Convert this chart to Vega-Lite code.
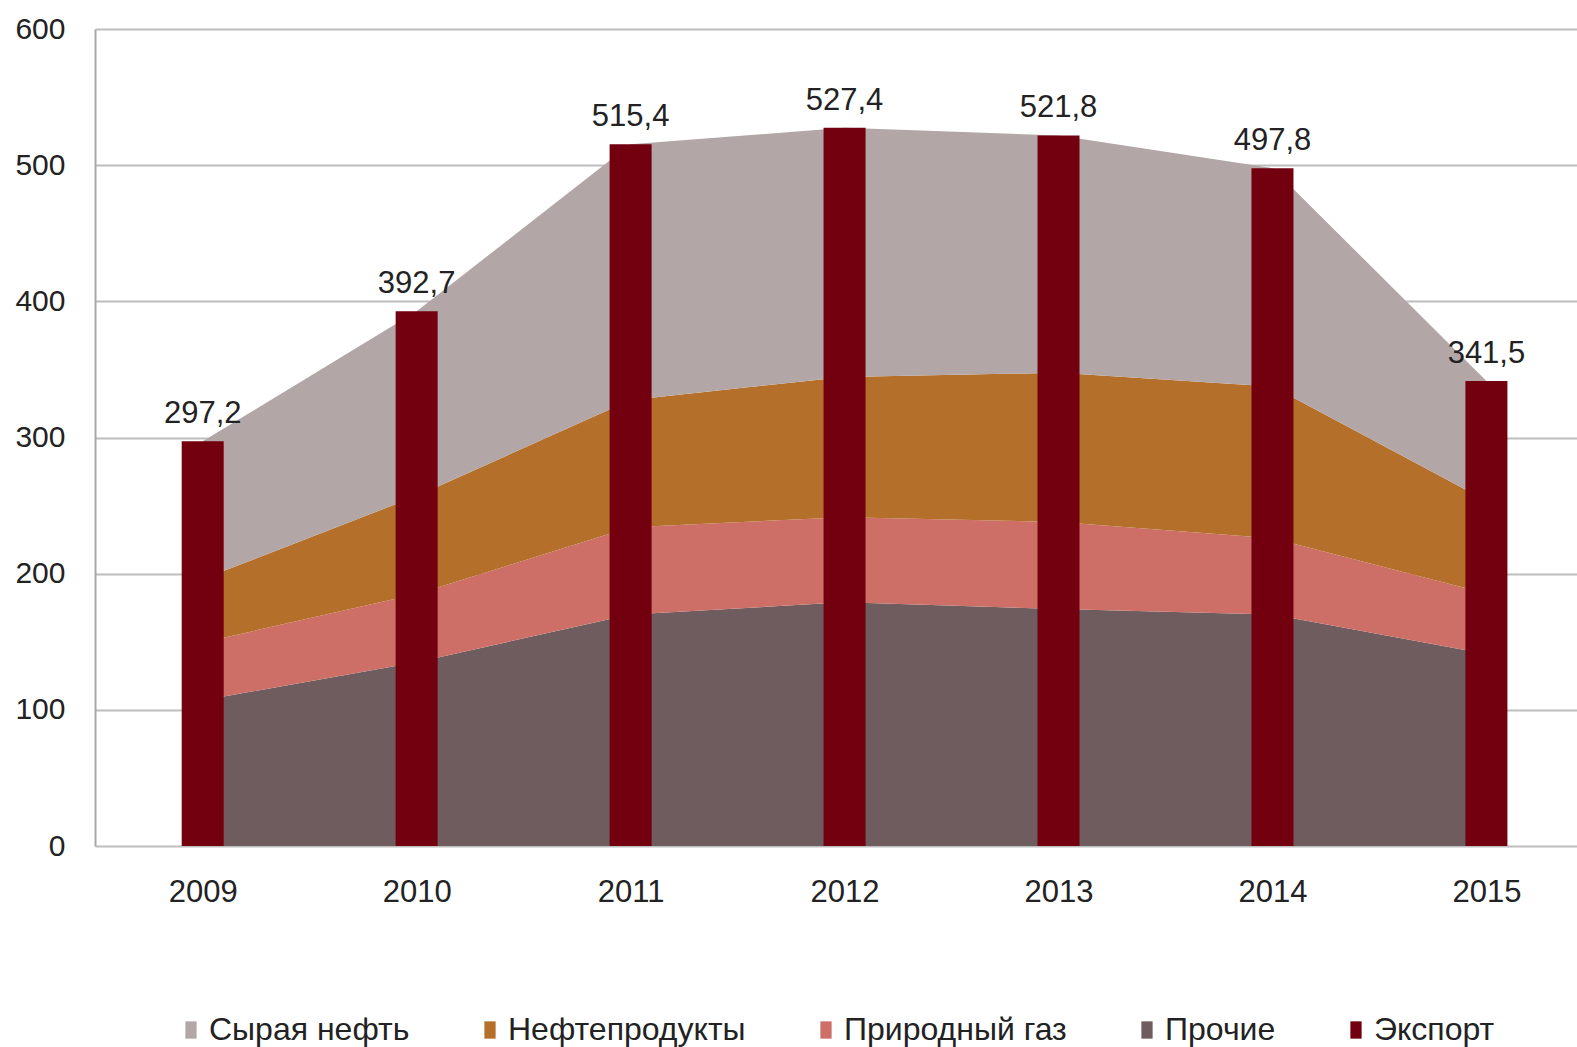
{
  "$schema": "https://vega.github.io/schema/vega-lite/v6.json",
  "width": 1482,
  "height": 817,
  "autosize": {"type": "none"},
  "padding": {"left": 95, "top": 29, "right": 0, "bottom": 201},
  "background": "#ffffff",
  "config": {
    "locale": {"number": {"decimal": ",", "thousands": " ", "grouping": [3], "currency": ["", ""]}},
    "font": "Liberation Sans",
    "view": {"stroke": null},
    "axis": {"labelFont": "Liberation Sans", "labelFontSize": 30, "labelColor": "#222222"}
  },
  "datasets": {
    "parts": [
      {"year": 2009, "series": "Прочие", "k": 1, "value": 107},
      {"year": 2009, "series": "Природный газ", "k": 2, "value": 42.5},
      {"year": 2009, "series": "Нефтепродукты", "k": 3, "value": 46.5},
      {"year": 2009, "series": "Сырая нефть", "k": 4, "value": 101.2},
      {"year": 2010, "series": "Прочие", "k": 1, "value": 135},
      {"year": 2010, "series": "Природный газ", "k": 2, "value": 50},
      {"year": 2010, "series": "Нефтепродукты", "k": 3, "value": 72},
      {"year": 2010, "series": "Сырая нефть", "k": 4, "value": 135.7},
      {"year": 2011, "series": "Прочие", "k": 1, "value": 170},
      {"year": 2011, "series": "Природный газ", "k": 2, "value": 64},
      {"year": 2011, "series": "Нефтепродукты", "k": 3, "value": 93.5},
      {"year": 2011, "series": "Сырая нефть", "k": 4, "value": 187.9},
      {"year": 2012, "series": "Прочие", "k": 1, "value": 179},
      {"year": 2012, "series": "Природный газ", "k": 2, "value": 62.5},
      {"year": 2012, "series": "Нефтепродукты", "k": 3, "value": 103},
      {"year": 2012, "series": "Сырая нефть", "k": 4, "value": 182.9},
      {"year": 2013, "series": "Прочие", "k": 1, "value": 174},
      {"year": 2013, "series": "Природный газ", "k": 2, "value": 64},
      {"year": 2013, "series": "Нефтепродукты", "k": 3, "value": 109.5},
      {"year": 2013, "series": "Сырая нефть", "k": 4, "value": 174.3},
      {"year": 2014, "series": "Прочие", "k": 1, "value": 170},
      {"year": 2014, "series": "Природный газ", "k": 2, "value": 56},
      {"year": 2014, "series": "Нефтепродукты", "k": 3, "value": 111.5},
      {"year": 2014, "series": "Сырая нефть", "k": 4, "value": 160.3},
      {"year": 2015, "series": "Прочие", "k": 1, "value": 141},
      {"year": 2015, "series": "Природный газ", "k": 2, "value": 44.5},
      {"year": 2015, "series": "Нефтепродукты", "k": 3, "value": 68},
      {"year": 2015, "series": "Сырая нефть", "k": 4, "value": 88}
    ],
    "totals": [
      {"year": 2009, "total": 297.2},
      {"year": 2010, "total": 392.7},
      {"year": 2011, "total": 515.4},
      {"year": 2012, "total": 527.4},
      {"year": 2013, "total": 521.8},
      {"year": 2014, "total": 497.8},
      {"year": 2015, "total": 341.5}
    ]
  },
  "encoding": {
    "x": {
      "field": "year",
      "type": "quantitative",
      "scale": {"domain": [2008.52, 2015.40], "nice": false, "zero": false},
      "axis": {
        "title": null,
        "values": [2009, 2010, 2011, 2012, 2013, 2014, 2015],
        "format": "d",
        "grid": false,
        "domain": false,
        "ticks": false,
        "labelFontSize": 31,
        "labelPadding": 31,
        "labelFlush": false
      }
    }
  },
  "layer": [
    {
      "data": {"name": "parts"},
      "mark": {"type": "area", "interpolate": "linear"},
      "encoding": {
        "y": {
          "field": "value",
          "type": "quantitative",
          "stack": "zero",
          "scale": {"domain": [0, 600], "nice": false},
          "axis": {
            "title": null,
            "values": [0, 100, 200, 300, 400, 500, 600],
            "grid": true,
            "gridColor": "#bdbdbd",
            "gridWidth": 2,
            "domain": true,
            "domainColor": "#a8a8a8",
            "domainWidth": 2,
            "ticks": false,
            "labelPadding": 30
          }
        },
        "order": {"field": "k", "type": "quantitative", "sort": "ascending"},
        "color": {
          "field": "series",
          "type": "nominal",
          "scale": {
            "domain": ["Сырая нефть", "Нефтепродукты", "Природный газ", "Прочие", "Экспорт"],
            "range": ["#B3A6A7", "#B4702A", "#CD6F67", "#6F5C5E", "#72000E"]
          },
          "legend": {
            "title": null,
            "orient": "none",
            "legendX": 80,
            "legendY": 985,
            "padding": 0,
            "direction": "horizontal",
            "symbolType": "M-0.65,-1H0.65V1H-0.65Z",
            "symbolSize": 300,
            "symbolStrokeWidth": 0,
            "labelFont": "Liberation Sans",
            "labelFontSize": 32,
            "labelColor": "#222222",
            "labelLimit": 500,
            "labelOffset": 2,
            "columnPadding": 64
          }
        }
      }
    },
    {
      "data": {"name": "totals"},
      "mark": {"type": "bar", "width": 42},
      "encoding": {
        "y": {"field": "total", "type": "quantitative"},
        "color": {"datum": "Экспорт"}
      }
    },
    {
      "data": {"name": "totals"},
      "mark": {"type": "text", "dy": -27, "fontSize": 31, "font": "Liberation Sans", "color": "#222222"},
      "encoding": {
        "y": {"field": "total", "type": "quantitative"},
        "text": {"field": "total", "type": "quantitative", "format": ".1f"}
      }
    }
  ]
}
